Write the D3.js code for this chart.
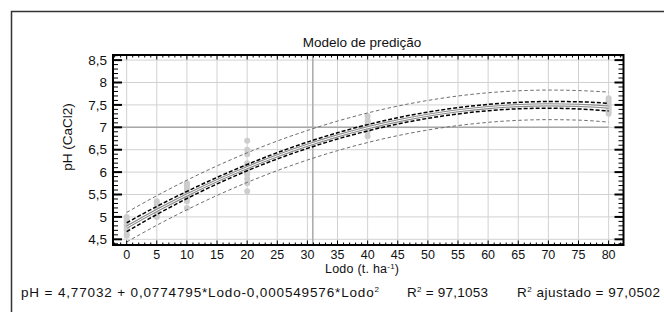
<!DOCTYPE html>
<html>
<head>
  <meta charset="utf-8">
  <script src="https://d3js.org/d3.v7.min.js"></script>
  <style>
    body { margin: 0; background: #fff; }
    text { font-family: "Liberation Sans", Arial, sans-serif; fill: #111; }
  </style>
</head>
<body>
<script>
  // observed pH per sludge dose (t/ha)
  var doses = [0, 5, 10, 20, 40, 80];
  var phObs = [
    [4.58, 4.62, 4.7, 4.75, 4.8, 4.85, 4.9, 4.95, 5.0],
    [5.0, 5.05, 5.1, 5.15, 5.2, 5.25, 5.3, 5.35],
    [5.2, 5.35, 5.4, 5.45, 5.5, 5.55, 5.6, 5.65, 5.7, 5.75],
    [5.57, 5.75, 5.85, 5.95, 6.0, 6.05, 6.1, 6.15, 6.2, 6.4, 6.5, 6.7],
    [6.8, 6.9, 6.95, 7.0, 7.05, 7.1, 7.15, 7.25],
    [7.3, 7.35, 7.4, 7.45, 7.5, 7.55, 7.6, 7.65]
  ];

  // curves, every 5 t/ha
  var curveX = [0, 5, 10, 15, 20, 25, 30, 35, 40, 45, 50, 55, 60, 65, 70, 75, 80];
  var fitY = [4.77, 5.144, 5.49, 5.809, 6.1, 6.364, 6.6, 6.809, 6.99, 7.144, 7.27, 7.369, 7.441, 7.485, 7.501, 7.49, 7.451];
  var confUp = [4.87, 5.234, 5.57, 5.882, 6.17, 6.434, 6.67, 6.879, 7.06, 7.214, 7.34, 7.439, 7.511, 7.557, 7.576, 7.57, 7.536];
  var confLo = [4.67, 5.054, 5.41, 5.736, 6.03, 6.294, 6.53, 6.739, 6.92, 7.074, 7.2, 7.299, 7.371, 7.413, 7.426, 7.41, 7.366];
  var predUp = [5.1, 5.474, 5.82, 6.139, 6.43, 6.694, 6.93, 7.139, 7.32, 7.474, 7.6, 7.699, 7.771, 7.815, 7.831, 7.82, 7.786];
  var predLo = [4.44, 4.814, 5.16, 5.479, 5.77, 6.034, 6.27, 6.479, 6.66, 6.814, 6.94, 7.039, 7.111, 7.155, 7.171, 7.16, 7.116];

  var xTicks = d3.range(0, 81, 5);
  var yTicks = [4.5, 5, 5.5, 6, 6.5, 7, 7.5, 8, 8.5];
  var refX = 30.9, refY = 7;

  var width = 664, height = 312;
  var pl = 113, pr = 623.5, pt = 55, pb = 245;

  var svg = d3.select("body").append("svg")
      .attr("width", width)
      .attr("height", height);

  // outer frame (runs off the page right and bottom)
  svg.append("path")
      .attr("d", "M11.5," + height + "V11.5H" + width)
      .attr("fill", "none")
      .attr("stroke", "#333")
      .attr("stroke-width", 1.5);

  var x = d3.scaleLinear().domain([-2.27, 82.47]).range([pl, pr]);
  var y = d3.scaleLinear().domain([4.373, 8.614]).range([pb, pt]);
  var fmt = function (d) { return String(d).replace(".", ","); };

  // grid
  svg.append("g").selectAll("line").data(xTicks).enter().append("line")
      .attr("x1", function (d) { return x(d); })
      .attr("x2", function (d) { return x(d); })
      .attr("y1", pt).attr("y2", pb)
      .attr("stroke", "#d2d2d2").attr("stroke-width", 1);
  svg.append("g").selectAll("line").data(yTicks).enter().append("line")
      .attr("y1", function (d) { return y(d); })
      .attr("y2", function (d) { return y(d); })
      .attr("x1", pl).attr("x2", pr)
      .attr("stroke", "#d2d2d2").attr("stroke-width", 1);

  // reference lines
  svg.append("line")
      .attr("x1", x(refX)).attr("x2", x(refX))
      .attr("y1", pt).attr("y2", pb)
      .attr("stroke", "#a8a8a8").attr("stroke-width", 1.5);
  svg.append("line")
      .attr("x1", pl).attr("x2", x(80))
      .attr("y1", y(refY)).attr("y2", y(refY))
      .attr("stroke", "#a8a8a8").attr("stroke-width", 1.5);

  // observations
  var pts = [];
  doses.forEach(function (d, i) {
    phObs[i].forEach(function (v) { pts.push([d, v]); });
  });
  svg.append("g").selectAll("circle").data(pts).enter().append("circle")
      .attr("cx", function (d) { return x(d[0]); })
      .attr("cy", function (d) { return y(d[1]); })
      .attr("r", 3)
      .attr("fill", "#cdcdcd");

  var line = function (vals) {
    return d3.line()
      .x(function (d, i) { return x(curveX[i]); })
      .y(function (d) { return y(d); })
      .curve(d3.curveMonotoneX)(vals);
  };

  // prediction band
  [predUp, predLo].forEach(function (c) {
    svg.append("path").attr("d", line(c))
        .attr("fill", "none").attr("stroke", "#6e6e6e")
        .attr("stroke-width", 1).attr("stroke-dasharray", "3.5,2.5");
  });
  // confidence band
  [confUp, confLo].forEach(function (c) {
    svg.append("path").attr("d", line(c))
        .attr("fill", "none").attr("stroke", "#000")
        .attr("stroke-width", 1.5).attr("stroke-dasharray", "4,2");
  });
  // fitted curve (double gray line)
  svg.append("path").attr("d", line(fitY))
      .attr("fill", "none").attr("stroke", "#8c8c8c").attr("stroke-width", 3.2);
  svg.append("path").attr("d", line(fitY))
      .attr("fill", "none").attr("stroke", "#fff").attr("stroke-width", 1);

  // ticks, pointing inward on all four sides
  var xMinor = d3.range(-2, 83, 1), yMinor = d3.range(44, 87, 1).map(function (v) { return v / 10; });
  var tk = svg.append("g").attr("stroke", "#000").attr("stroke-width", 1);
  xMinor.forEach(function (v) {
    var len = v % 5 === 0 ? 4.5 : 2.5;
    tk.append("line").attr("x1", x(v)).attr("x2", x(v)).attr("y1", pb).attr("y2", pb - len);
    tk.append("line").attr("x1", x(v)).attr("x2", x(v)).attr("y1", pt).attr("y2", pt + len);
  });
  yMinor.forEach(function (v) {
    var major = Math.abs(v * 2 - Math.round(v * 2)) < 1e-6;
    var len = major ? 9 : 5;
    var w = major ? 2 : 1;
    tk.append("line").attr("x1", pl).attr("x2", pl + len).attr("y1", y(v)).attr("y2", y(v)).attr("stroke-width", w);
    tk.append("line").attr("x1", pr).attr("x2", pr - len).attr("y1", y(v)).attr("y2", y(v)).attr("stroke-width", w);
  });

  svg.append("rect")
      .attr("x", pl).attr("y", pt)
      .attr("width", pr - pl).attr("height", pb - pt)
      .attr("fill", "none").attr("stroke", "#000").attr("stroke-width", 2);

  // tick labels
  svg.append("g").selectAll("text").data(yTicks).enter().append("text")
      .attr("x", 107).attr("y", function (d) { return y(d); })
      .attr("dy", "0.35em").attr("text-anchor", "end")
      .style("font-size", "13.5px")
      .text(fmt);
  svg.append("g").selectAll("text").data(xTicks).enter().append("text")
      .attr("x", function (d) { return x(d); }).attr("y", 258.5)
      .attr("text-anchor", "middle")
      .style("font-size", "12.5px")
      .text(fmt);

  // titles
  svg.append("text").attr("x", 362).attr("y", 46.5)
      .attr("text-anchor", "middle").style("font-size", "13.5px")
      .text("Modelo de predição");
  svg.append("text")
      .attr("transform", "translate(72,137) rotate(-90)")
      .attr("text-anchor", "middle").style("font-size", "13.5px")
      .text("pH (CaCl2)");
  var xl = svg.append("text").attr("x", 325).attr("y", 273)
      .style("font-size", "12.5px")
      .attr("textLength", 74).attr("lengthAdjust", "spacing");
  xl.append("tspan").text("Lodo (t. ha");
  xl.append("tspan").attr("dy", -4.5).style("font-size", "8px").text("-1");
  xl.append("tspan").attr("dy", 4.5).text(")");

  var eq = svg.append("text").attr("x", 21).attr("y", 296.5).style("font-size", "13.5px")
      .attr("textLength", 358).attr("lengthAdjust", "spacing");
  eq.append("tspan").text("pH = 4,77032 + 0,0774795*Lodo-0,000549576*Lodo");
  eq.append("tspan").attr("dy", -4.5).style("font-size", "8px").text("2");

  var r1 = svg.append("text").attr("x", 407).attr("y", 296.5).style("font-size", "13.5px")
      .attr("textLength", 81).attr("lengthAdjust", "spacing");
  r1.append("tspan").text("R");
  r1.append("tspan").attr("dy", -4.5).style("font-size", "8px").text("2");
  r1.append("tspan").attr("dy", 4.5).text(" = 97,1053");

  var r2 = svg.append("text").attr("x", 517).attr("y", 296.5).style("font-size", "13.5px")
      .attr("textLength", 143).attr("lengthAdjust", "spacing");
  r2.append("tspan").text("R");
  r2.append("tspan").attr("dy", -4.5).style("font-size", "8px").text("2");
  r2.append("tspan").attr("dy", 4.5).text(" ajustado = 97,0502");
</script>
</body>
</html>
